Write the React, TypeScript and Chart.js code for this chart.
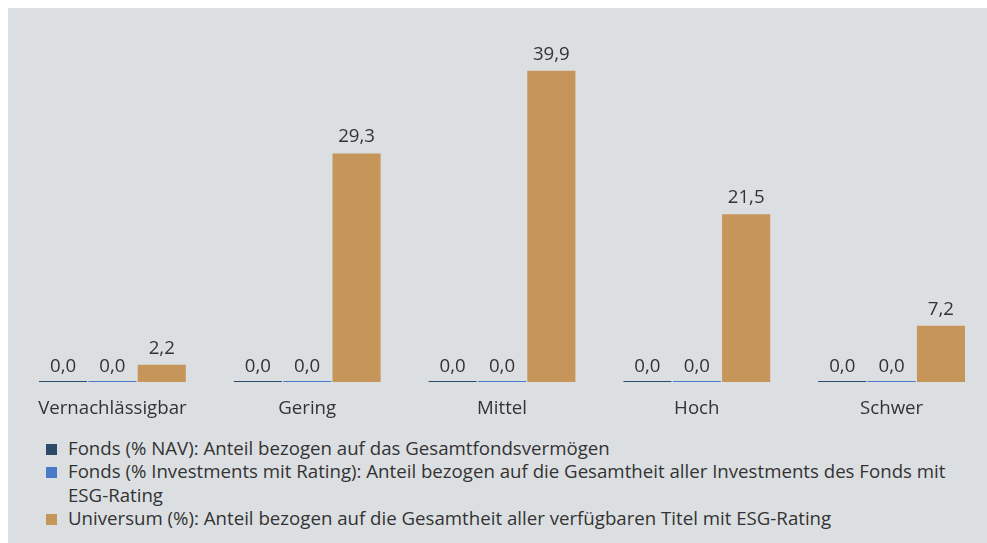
import React, { useEffect, useRef } from "react";
import { Chart, registerables } from "chart.js";

Chart.register(...registerables);

const categories = ["Vernachlässigbar", "Gering", "Mittel", "Hoch", "Schwer"];
const fondsNav = [0.0, 0.0, 0.0, 0.0, 0.0];
const fondsRating = [0.0, 0.0, 0.0, 0.0, 0.0];
const universum = [2.2, 29.3, 39.9, 21.5, 7.2];

const seriesLabels = [
  "Fonds (% NAV): Anteil bezogen auf das Gesamtfondsvermögen",
  "Fonds (% Investments mit Rating): Anteil bezogen auf die Gesamtheit aller Investments des Fonds mit ESG-Rating",
  "Universum (%): Anteil bezogen auf die Gesamtheit aller verfügbaren Titel mit ESG-Rating",
];
const seriesColors = ["#2d4a69", "#4b79c9", "#c5955a"];

const FONT = "'Open Sans', 'Noto Sans', sans-serif";
const TEXT = "#333333";
const FS = 18.67;

const valueLabels = {
  id: "valueLabels",
  afterDatasetsDraw(chart: any) {
    const ctx = chart.ctx;
    ctx.save();
    ctx.font = `${FS}px ${FONT}`;
    ctx.fillStyle = TEXT;
    ctx.textAlign = "center";
    ctx.textBaseline = "alphabetic";
    chart.data.datasets.forEach((ds: any, i: number) => {
      const meta = chart.getDatasetMeta(i);
      meta.data.forEach((el: any, j: number) => {
        const v = ds.data[j] as number;
        const gap = v === 0 ? 9 : 11;
        ctx.fillText(v.toFixed(1).replace(".", ","), el.x, el.y - gap);
      });
    });
    ctx.restore();
  },
};

export default function App() {
  const ref = useRef<HTMLCanvasElement | null>(null);
  useEffect(() => {
    if (!ref.current) return;
    const chart = new Chart(ref.current, {
      type: "bar",
      data: {
        labels: categories,
        datasets: [
          { label: seriesLabels[0], data: fondsNav, backgroundColor: seriesColors[0], minBarLength: 1 },
          { label: seriesLabels[1], data: fondsRating, backgroundColor: seriesColors[1], minBarLength: 1 },
          { label: seriesLabels[2], data: universum, backgroundColor: seriesColors[2], minBarLength: 1 },
        ],
      },
      options: {
        responsive: false,
        animation: false,
        devicePixelRatio: 1,
        layout: { padding: { top: 62, left: 7, right: 0, bottom: 0 } },
        datasets: { bar: { categoryPercentage: 0.76, barPercentage: 0.975 } },
        plugins: { legend: { display: false }, tooltip: { enabled: false } },
        scales: {
          x: {
            grid: { display: false, drawTicks: false },
            border: { display: false },
            ticks: { color: TEXT, font: { family: FONT, size: FS }, padding: 15 },
            afterFit: (scale: any) => {
              scale.height = 37;
            },
          },
          y: { display: false, min: 0, max: 40 },
        },
      },
      plugins: [valueLabels],
    });
    return () => chart.destroy();
  }, []);

  return (
    <div
      style={{
        position: "absolute",
        left: 8,
        top: 8,
        right: 0,
        bottom: 0,
        background: "#dcdfe2",
        overflow: "hidden",
        fontFamily: FONT,
      }}
    >
      <canvas
        ref={ref}
        width={981}
        height={411}
        style={{ position: "absolute", left: 0, top: 0, width: 981, height: 411 }}
      />
      <div style={{ position: "absolute", left: 38, top: 428, width: 910 }}>
        {seriesLabels.map((lab, i) => (
          <div key={i} style={{ display: "flex", alignItems: "flex-start", fontSize: FS, lineHeight: "23.33px", color: TEXT }}>
            <span
              style={{
                display: "inline-block",
                width: 11,
                height: 11,
                background: seriesColors[i],
                marginTop: 8,
                marginRight: 11,
                flex: "0 0 auto",
              }}
            />
            <span>{lab}</span>
          </div>
        ))}
      </div>
    </div>
  );
}
